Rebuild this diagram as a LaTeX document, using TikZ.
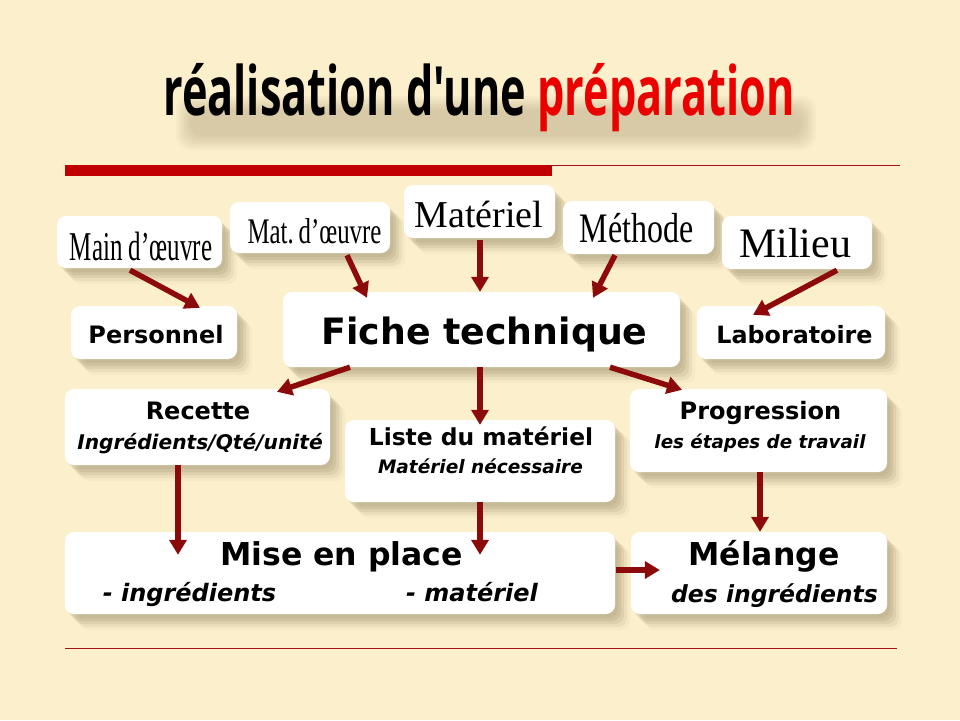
\documentclass[tikz,border=0pt]{standalone}
\usepackage{fontspec}
\usepackage{graphicx}
\usetikzlibrary{shadows,arrows.meta,calc}
\newfontfamily\serf{Liberation Serif}
\newfontfamily\dvs{DejaVu Sans}
\newfontfamily\ttlf{Open Sans}
\newcommand\fsz[1]{\fontsize{#1}{#1}\selectfont}
\newcommand\bsans{\dvs\bfseries}
\definecolor{bgc}{RGB}{252,239,204}
\definecolor{shc}{RGB}{105,90,55}
\definecolor{arrc}{RGB}{140,10,10}
\definecolor{barc}{RGB}{192,0,0}
\definecolor{ttlred}{RGB}{235,0,0}
\definecolor{linec}{RGB}{165,20,20}
\tikzset{
  shad/.style={
    drop shadow={shadow xshift=3pt,shadow yshift=-4pt,opacity=.09,fill=shc},
    drop shadow={shadow xshift=6pt,shadow yshift=-7pt,opacity=.11,fill=shc},
    drop shadow={shadow xshift=9pt,shadow yshift=-10pt,opacity=.10,fill=shc},
    drop shadow={shadow xshift=12pt,shadow yshift=-13pt,opacity=.07,fill=shc},
    drop shadow={shadow xshift=15pt,shadow yshift=-16pt,opacity=.04,fill=shc}},
  box/.style={shad, fill=white, draw=none, rounded corners=9pt, inner sep=0pt},
  lab/.style={inner sep=0pt, text=black, anchor=base},
  arr/.style={draw=arrc, line width=5.5pt, -{Triangle[width=17pt,length=15pt]}},
  blur/.style={fill=shc, opacity=0.03, rounded corners=14pt}
}
\begin{document}
\begin{tikzpicture}[x=1pt,y=-1pt]
\useasboundingbox (0,0) rectangle (960,720);
\fill[bgc] (0,0) rectangle (960,720);

% soft shadow under the title
\foreach \k in {0,2,4,6,8,10,12,14}{
  \fill[blur] (176+\k,96+\k) rectangle (816-\k,150-\k);
}

\node[lab] (title) at (479,115) {\ttlf\bfseries\fsz{68}\scalebox{0.636}[1]{réalisation d\symbol{39}une \textcolor{ttlred}{préparation}}};

% rules
\fill[barc] (65,165) rectangle (552,176);
\draw[linec, line width=1pt] (552,165.5) -- (900,165.5);
\draw[linec, line width=1pt] (65,648.5) -- (897,648.5);

% boxes
\node[box, minimum width=165pt, minimum height=52pt] (mo)    at (139.5,242) {};
\node[box, minimum width=160pt, minimum height=51pt] (mat)   at (310,227.5) {};
\node[box, minimum width=151pt, minimum height=53pt] (matl)  at (479.5,211.5) {};
\node[box, minimum width=151pt, minimum height=53pt] (meth)  at (638.5,227.5) {};
\node[box, minimum width=150pt, minimum height=53pt] (mil)   at (797,242.5) {};
\node[box, minimum width=166pt, minimum height=53pt] (pers)  at (154,332.5) {};
\node[box, minimum width=397pt, minimum height=75pt] (fiche) at (481.5,329.5) {};
\node[box, minimum width=188pt, minimum height=53pt] (labo)  at (791,332.5) {};
\node[box, minimum width=265pt, minimum height=76pt] (rec)   at (197.5,427) {};
\node[box, minimum width=270pt, minimum height=82pt] (liste) at (480,461) {};
\node[box, minimum width=257pt, minimum height=83pt] (prog)  at (758.5,430.5) {};
\node[box, minimum width=550pt, minimum height=82pt] (mise)  at (340,573) {};
\node[box, minimum width=256pt, minimum height=82pt] (mel)   at (759,573) {};

% texts
\node[lab] (tmo)   at (141,260)   {\serf\fsz{41}\scalebox{0.61}[1]{Main d’œuvre}};
\node[lab] (tmat)  at (314.5,243) {\serf\fsz{36}\scalebox{0.69}[1]{Mat.\kern-2pt\ d’œuvre}};
\node[lab] (tmatl) at (479,227)   {\serf\fsz{38}Matériel};
\node[lab] (tmeth) at (636.5,242) {\serf\fsz{42}\scalebox{0.76}[1]{Méthode}};
\node[lab] (tmil)  at (795,257)   {\serf\fsz{42}Milieu};
\node[lab] (tpers) at (156,343)   {\bsans\fsz{24}Personnel};
\node[lab] (tfic)  at (484.5,344) {\bsans\fsz{36.3}Fiche technique};
\node[lab] (tlab)  at (794.5,343) {\bsans\fsz{23.8}Laboratoire};
\node[lab] (trec)  at (198,419)   {\bsans\fsz{24}Recette};
\node[lab] (tring) at (200,449)   {\bsans\itshape\fsz{20.2}Ingrédients/Qté/unité};
\node[lab] (tlis)  at (481,445)   {\bsans\fsz{23.4}Liste du matériel};
\node[lab] (tlisb) at (480.5,473) {\bsans\itshape\fsz{18.5}Matériel nécessaire};
\node[lab] (tprog) at (760.5,419) {\bsans\fsz{24}Progression};
\node[lab] (tprob) at (760,448)   {\bsans\itshape\fsz{18.3}les étapes de travail};
\node[lab] (tmise) at (341.5,565) {\bsans\fsz{31.5}Mise en place};
\node[lab] (tmia)  at (189.5,601) {\bsans\itshape\fsz{24}- ingrédients};
\node[lab] (tmib)  at (472,601)   {\bsans\itshape\fsz{24}- matériel};
\node[lab] (tmel)  at (764,565)   {\bsans\fsz{31.5}Mélange};
\node[lab] (tmelb) at (774.5,602) {\bsans\itshape\fsz{23.5}des ingrédients};

% arrows
\draw[arr] ($(mo.south)+(-9.5,2)$)    -- ($(pers.north)+(46,2)$);
\draw[arr] ($(mat.south)+(37,2)$)     -- ($(fiche.north)+(-114.5,6)$);
\draw[arr] ($(matl.south)+(0.5,2)$)   -- ($(fiche.north)+(-1.5,0)$);
\draw[arr] ($(meth.south)+(-23.5,1)$) -- ($(fiche.north)+(111.5,6)$);
\draw[arr] ($(mil.south)+(40,1)$)     -- ($(labo.north)+(-38,9)$);
\draw[arr] ($(fiche.south)+(-131.5,0)$) -- ($(rec.north)+(79.5,3)$);
\draw[arr] ($(fiche.south)+(-1.5,0)$) -- ($(liste.north)+(0,5)$);
\draw[arr] ($(fiche.south)+(128.5,0)$) -- ($(prog.north)+(-76.5,1)$);
\draw[arr] ($(rec.south)+(-19.5,0)$)  -- ($(mise.north)+(-162,23)$);
\draw[arr] (liste.south)              -- ($(mise.north)+(140,23)$);
\draw[arr] ($(prog.south)+(1.5,0)$)   -- ($(mel.north)+(1,0)$);
\draw[arr] ($(mise.east)+(1,-3)$)     -- ($(mel.west)+(29,-3)$);
\end{tikzpicture}
\end{document}
